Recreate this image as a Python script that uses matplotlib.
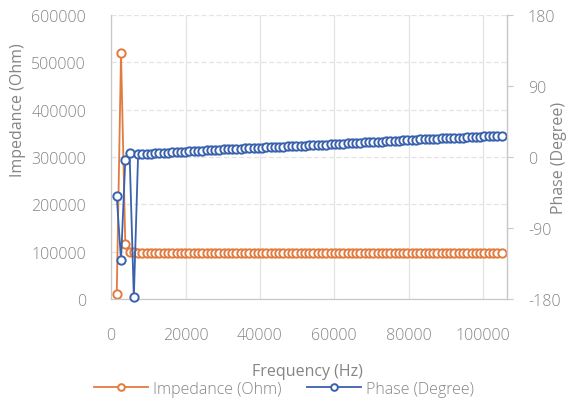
import matplotlib
matplotlib.use("Agg")
import matplotlib.pyplot as plt

# frequency sweep, 1500 Hz .. 105000 Hz in 1150 Hz steps
freq = [1500, 2650, 3800, 4950, 6100, 7250, 8400, 9550, 10700, 11850,
        13000, 14150, 15300, 16450, 17600, 18750, 19900, 21050, 22200, 23350,
        24500, 25650, 26800, 27950, 29100, 30250, 31400, 32550, 33700, 34850,
        36000, 37150, 38300, 39450, 40600, 41750, 42900, 44050, 45200, 46350,
        47500, 48650, 49800, 50950, 52100, 53250, 54400, 55550, 56700, 57850,
        59000, 60150, 61300, 62450, 63600, 64750, 65900, 67050, 68200, 69350,
        70500, 71650, 72800, 73950, 75100, 76250, 77400, 78550, 79700, 80850,
        82000, 83150, 84300, 85450, 86600, 87750, 88900, 90050, 91200, 92350,
        93500, 94650, 95800, 96950, 98100, 99250, 100400, 101550, 102700, 103850,
        105000]

impedance = [10000, 519000, 117000, 100000, 98500, 98000, 98000, 98000, 98000, 98000,
             98000, 98000, 98000, 98000, 98000, 98000, 98000, 98000, 98000, 98000,
             98000, 98000, 98000, 98000, 98000, 98000, 98000, 98000, 98000, 98000,
             98000, 98000, 98000, 98000, 98000, 98000, 98000, 98000, 98000, 98000,
             98000, 98000, 98000, 98000, 98000, 98000, 98000, 98000, 98000, 98000,
             98000, 98000, 98000, 98000, 98000, 98000, 98000, 98000, 98000, 98000,
             98000, 98000, 98000, 98000, 98000, 98000, 98000, 98000, 98000, 98000,
             98000, 98000, 98000, 98000, 98000, 98000, 98000, 98000, 98000, 98000,
             98000, 98000, 98000, 98000, 98000, 98000, 98000, 98000, 98000, 98000,
             98000]

phase = [-50, -131, -4, 5, -178, 3.5, 3.8, 4.1, 4.4, 4.7,
         5.0, 5.3, 5.6, 5.9, 6.2, 6.5, 6.8, 7.1, 7.4, 7.7,
         8.0, 8.3, 8.6, 8.9, 9.2, 9.5, 9.8, 10.1, 10.4, 10.7,
         11.0, 11.2, 11.5, 11.7, 12.0, 12.2, 12.5, 12.7, 13.0, 13.2,
         13.5, 13.7, 14.0, 14.2, 14.5, 14.7, 15.0, 15.2, 15.5, 15.7,
         16.0, 16.3, 16.6, 16.9, 17.2, 17.5, 17.8, 18.1, 18.4, 18.7,
         19.0, 19.3, 19.6, 19.9, 20.2, 20.5, 20.8, 21.1, 21.4, 21.7,
         22.0, 22.2, 22.5, 22.7, 23.0, 23.2, 23.5, 23.7, 24.0, 24.2,
         24.5, 24.7, 25.0, 25.2, 25.5, 25.7, 26.0, 26.2, 26.5, 26.7,
         27.0]

x_ticks = [0, 20000, 40000, 60000, 80000, 100000]
imp_ticks = [0, 100000, 200000, 300000, 400000, 500000, 600000]
phase_ticks = [-180, -90, 0, 90, 180]

ORANGE = "#E27B3E"
BLUE = "#3A62AC"
TEXT = "#858585"
GRID = "#E3E3E3"

plt.rcParams["font.family"] = ["Open Sans", "DejaVu Sans"]
plt.rcParams["font.size"] = 11.5
plt.rcParams["font.weight"] = "light"
plt.rcParams["axes.unicode_minus"] = False

fig = plt.figure(figsize=(5.73, 4.02), dpi=100)
ax = fig.add_axes([0.194, 0.254, 0.691, 0.706])
ax2 = ax.twinx()

mk = dict(marker="o", markersize=6, markerfacecolor="white", markeredgewidth=1.4,
          linewidth=1.3, clip_on=False)
l1, = ax.plot(freq, impedance, color=ORANGE, label="Impedance (Ohm)", **mk)
l2, = ax2.plot(freq, phase, color=BLUE, label="Phase (Degree)", **mk)

ax.set_xlim(0, 106500)
ax.set_ylim(0, 600000)
ax2.set_ylim(-180, 180)
ax.set_xticks(x_ticks)
ax.set_yticks(imp_ticks)
ax2.set_yticks(phase_ticks)

ax.grid(axis="x", color=GRID, linewidth=0.9)
ax.grid(axis="y", color=GRID, linewidth=0.9, linestyle=(0, (4, 2)))
ax.set_axisbelow(True)

for a in (ax, ax2):
    a.spines["top"].set_visible(False)
    for s in ("left", "right", "bottom"):
        a.spines[s].set_color("#C8C8C8")
        a.spines[s].set_linewidth(0.9)
ax2.spines["left"].set_visible(False)
ax2.spines["bottom"].set_visible(False)

ax.tick_params(axis="y", colors=TEXT, length=0, pad=18)
ax.tick_params(axis="x", colors=TEXT, length=0, pad=20)
ax2.tick_params(axis="y", colors=TEXT, length=4, width=0.8, pad=11,
                color="#C8C8C8")

ax.set_xlabel("Frequency (Hz)", color=TEXT)
ax.xaxis.set_label_coords(0.495, -0.225)
ax.set_ylabel("Impedance (Ohm)", color=TEXT)
ax.yaxis.set_label_coords(-0.215, 0.67)
ax2.set_ylabel("Phase (Degree)", color=TEXT, rotation=90)
ax2.yaxis.set_label_coords(1.11, 0.5)

fig.legend(handles=[l1, l2], loc="center", bbox_to_anchor=(0.495, 0.03), ncol=2,
           frameon=False, handlelength=3.4, columnspacing=1.6, handletextpad=0.3,
           labelcolor=TEXT, markerscale=0.8)

fig.savefig("out.png", dpi=100)
